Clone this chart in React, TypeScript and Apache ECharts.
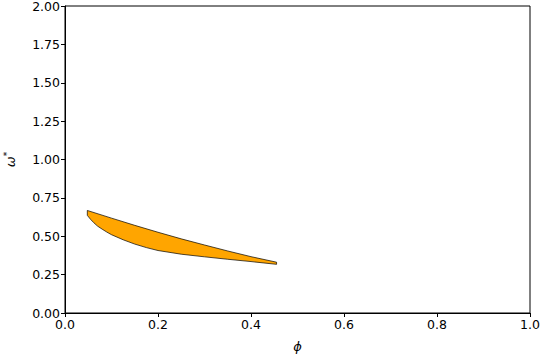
import React, { useEffect, useRef } from "react";
import * as echarts from "echarts";

// Region boundary (phi, omega*)
const upperPhi = [0.048, 0.1, 0.15, 0.2, 0.25, 0.3, 0.35, 0.4, 0.455];
const upperOmega = [0.668, 0.618, 0.571, 0.526, 0.483, 0.443, 0.404, 0.367, 0.331];
const lowerPhi = [0.048, 0.055, 0.062, 0.07, 0.08, 0.09, 0.1, 0.125, 0.15, 0.175, 0.2, 0.25, 0.3, 0.35, 0.4, 0.455];
const lowerOmega = [0.636, 0.61, 0.588, 0.566, 0.546, 0.527, 0.51, 0.477, 0.449, 0.426, 0.407, 0.383, 0.366, 0.35, 0.335, 0.317];

const xTicks = [0, 0.2, 0.4, 0.6, 0.8, 1.0];
const yTicks = [0, 0.25, 0.5, 0.75, 1.0, 1.25, 1.5, 1.75, 2.0];

export default function App() {
  const ref = useRef<HTMLDivElement>(null);
  useEffect(() => {
    if (!ref.current) return;
    const chart = echarts.init(ref.current, undefined, { renderer: "svg" });
    const polyPts: number[][] = [];
    for (let i = 0; i < upperPhi.length; i++) polyPts.push([upperPhi[i], upperOmega[i]]);
    for (let i = lowerPhi.length - 1; i >= 0; i--) polyPts.push([lowerPhi[i], lowerOmega[i]]);
    const font = "DejaVu Sans";
    chart.setOption({
      animation: false,
      backgroundColor: "#fff",
      grid: {
        left: 65,
        right: 10,
        top: 6,
        bottom: 47,
        containLabel: false,
        outerBoundsMode: "none",
        show: true,
        borderColor: "#000",
        borderWidth: 1,
        backgroundColor: "transparent",
      },
      xAxis: {
        type: "value",
        min: xTicks[0],
        max: xTicks[xTicks.length - 1],
        interval: 0.2,
        name: "ϕ",
        nameLocation: "middle",
        nameGap: 27,
        nameTextStyle: { fontFamily: font, fontSize: 13, fontStyle: "italic", color: "#000" },
        axisLine: { show: true, lineStyle: { color: "#000", width: 1 } },
        axisTick: { show: true, inside: false, length: 4, lineStyle: { color: "#000" } },
        axisLabel: {
          fontFamily: font,
          fontSize: 12.5,
          color: "#000",
          margin: 5,
          formatter: (v: number) => v.toFixed(1),
        },
        splitLine: { show: false },
      },
      yAxis: {
        type: "value",
        min: yTicks[0],
        max: yTicks[yTicks.length - 1],
        interval: 0.25,
        name: "{w|ω}{s|*}",
        nameLocation: "middle",
        nameGap: 46,
        nameRotate: 90,
        nameTextStyle: {
          fontFamily: font,
          color: "#000",
          rich: {
            w: { fontFamily: font, fontSize: 13, fontStyle: "italic", color: "#000" },
            s: { fontFamily: font, fontSize: 9, color: "#000", padding: [0, 0, 8, 0] },
          },
        },
        axisLine: { show: true, lineStyle: { color: "#000", width: 1 } },
        axisTick: { show: true, inside: false, length: 4, lineStyle: { color: "#000" } },
        axisLabel: {
          fontFamily: font,
          fontSize: 12.5,
          color: "#000",
          margin: 5,
          formatter: (v: number) => v.toFixed(2),
        },
        splitLine: { show: false },
      },
      series: [
        {
          type: "custom",
          data: [[0, 0]],
          renderItem: (_params: any, api: any) => {
            const points = polyPts.map((p) => api.coord(p));
            return {
              type: "polygon",
              shape: { points },
              style: { fill: "#FFA500", stroke: "#000", lineWidth: 0.7 },
            };
          },
          clip: true,
        },
      ],
    });
    return () => chart.dispose();
  }, []);
  return (
    <div
      ref={ref}
      style={{ position: "fixed", left: 0, top: 0, width: 540, height: 360 }}
    />
  );
}
